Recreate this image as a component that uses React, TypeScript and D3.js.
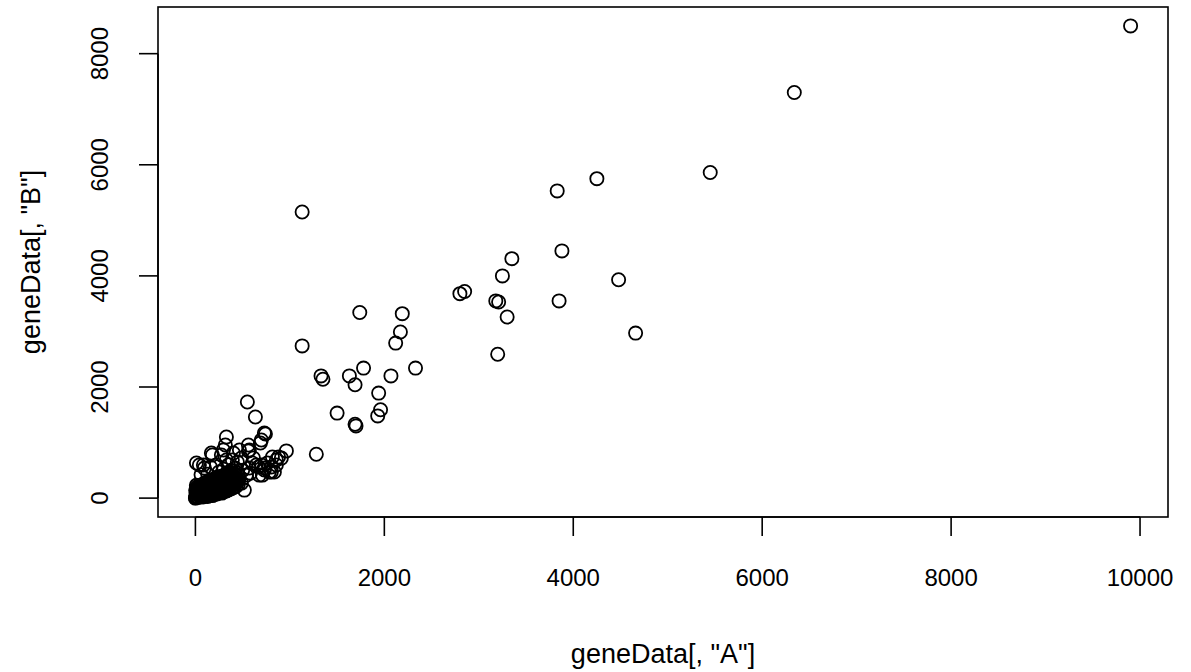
import React from "react";
import * as d3 from "d3";

// geneData[, "A"] vs geneData[, "B"]
const highGenes: [number, number][] = [
  [9900, 8500], [6340, 7300], [5450, 5860], [4250, 5750], [3830, 5530],
  [1130, 5150], [3880, 4450], [3350, 4310], [3250, 4000], [4480, 3930],
  [2800, 3680], [2850, 3720], [3180, 3550], [3210, 3530], [3300, 3260],
  [3850, 3550], [4660, 2970], [3200, 2590],
];

const midGenes: [number, number][] = [
  [1740, 3340], [2190, 3320], [2170, 2990], [2120, 2790], [1130, 2740],
  [1330, 2200], [1350, 2140], [1630, 2200], [1780, 2340], [1690, 2040],
  [2070, 2200], [2330, 2340], [1940, 1890], [1960, 1590], [1930, 1480],
  [1500, 1530], [1690, 1330], [1700, 1300], [1280, 790],
];

const bandGenes: [number, number][] = [
  [550, 1730], [635, 1460], [328, 1100], [741, 1153], [688, 991],
  [561, 847], [963, 850], [910, 720], [857, 685], [180, 775],
  [296, 865], [42, 595], [95, 540], [391, 685], [444, 649],
  [645, 595], [730, 505], [804, 559], [836, 469], [783, 469],
  [709, 414], [518, 144], [317, 955], [561, 955], [402, 811],
  [275, 775], [169, 811], [85, 595], [11, 631], [159, 559],
  [222, 595], [328, 685], [487, 721], [614, 721], [667, 559],
  [582, 450], [487, 270], [730, 1171], [698, 1045], [571, 865],
  [466, 865], [880, 740], [815, 739], [762, 631], [698, 595],
  [603, 631], [857, 595], [804, 469], [730, 541], [571, 541],
  [540, 414], [677, 414], [380, 500], [420, 540], [300, 520],
  [250, 470], [130, 430], [60, 420], [500, 500], [350, 600],
];

const clusterGenes: [number, number][] = [
  [0, 0], [2, 5], [5, 40], [8, 90], [3, 140], [12, 190], [15, 20], [18, 120], [10, 230],
  [30, 10], [28, 60], [35, 110], [32, 160], [25, 210],
  [55, 25], [50, 75], [58, 130], [52, 180], [60, 235],
  [80, 20], [78, 70], [85, 120], [82, 170], [75, 220], [88, 260],
  [105, 35], [100, 85], [110, 140], [108, 190], [102, 240], [112, 285],
  [130, 30], [128, 80], [135, 130], [132, 185], [125, 235], [138, 290],
  [155, 50], [150, 100], [160, 150], [158, 200], [152, 250], [162, 300],
  [180, 45], [178, 95], [185, 145], [182, 195], [175, 245], [188, 300], [183, 330],
  [205, 70], [200, 120], [210, 165], [208, 215], [202, 265], [212, 310], [206, 350],
  [230, 75], [228, 125], [235, 175], [232, 225], [225, 275], [238, 325], [230, 370],
  [255, 100], [250, 150], [260, 200], [258, 250], [252, 300], [262, 345], [256, 390],
  [280, 90], [278, 140], [285, 190], [282, 240], [275, 290], [288, 340], [280, 390],
  [305, 120], [300, 170], [310, 220], [308, 270], [302, 320], [312, 370], [306, 410],
  [330, 130], [328, 180], [335, 230], [332, 280], [325, 330], [338, 385], [331, 425],
  [355, 150], [350, 200], [360, 250], [358, 300], [352, 350], [362, 400], [355, 440],
  [380, 170], [378, 220], [385, 270], [382, 320], [375, 370], [388, 420], [381, 455],
  [405, 190], [400, 240], [410, 290], [408, 340], [402, 390], [412, 440],
  [430, 210], [428, 260], [435, 310], [432, 360], [425, 410], [438, 455],
  [455, 250], [450, 300], [460, 350], [458, 400],
  [20, 65], [22, 165], [45, 50], [42, 150], [40, 200], [65, 100], [68, 200],
  [92, 45], [95, 145], [98, 215], [118, 60], [120, 165], [118, 260], [142, 110],
  [145, 210], [168, 75], [170, 175], [170, 275], [192, 120], [195, 225], [195, 320],
  [218, 95], [220, 195], [218, 290], [242, 150], [245, 250], [245, 345],
  [268, 120], [270, 220], [268, 315], [292, 165], [295, 265], [292, 360],
  [318, 150], [320, 245], [318, 345], [342, 205], [345, 305], [368, 225], [370, 325],
  [392, 250], [395, 350], [418, 270], [420, 370], [442, 330],
];

const xTicks = [0, 2000, 4000, 6000, 8000, 10000];
const yTicks = [0, 2000, 4000, 6000, 8000];
const xTitle = 'geneData[, "A"]';
const yTitle = 'geneData[, "B"]';

const W = 1191;
const H = 672;
const box = { left: 158, right: 1168, top: 7, bottom: 517 };
const FONT = "'Liberation Sans', Arial, Helvetica, sans-serif";
const FS = 24;
const FS_TITLE = 27;

export default function App() {
  const all = [...highGenes, ...midGenes, ...bandGenes, ...clusterGenes];
  const [x0, x1] = d3.extent(all, (d) => d[0]) as [number, number];
  const [y0, y1] = d3.extent(all, (d) => d[1]) as [number, number];
  const dx = (x1 - x0) * 0.04;
  const dy = (y1 - y0) * 0.04;
  const x = d3.scaleLinear().domain([x0 - dx, x1 + dx]).range([box.left, box.right]);
  const y = d3.scaleLinear().domain([y0 - dy, y1 + dy]).range([box.bottom, box.top]);
  const tick = 19;

  return (
    <svg
      width={W}
      height={H}
      style={{ position: "absolute", left: 0, top: 0, background: "#fff" }}
      fontFamily={FONT}
    >
      <rect x={0} y={0} width={W} height={H} fill="#fff" />
      <g fill="none" stroke="#000" strokeWidth={1.8}>
        {all.map((d, i) => (
          <circle key={i} cx={x(d[0])} cy={y(d[1])} r={6.6} />
        ))}
      </g>
      <rect
        x={box.left}
        y={box.top}
        width={box.right - box.left}
        height={box.bottom - box.top}
        fill="none"
        stroke="#000"
        strokeWidth={1.6}
      />
      <g stroke="#000" strokeWidth={1.6}>
        <line x1={x(xTicks[0])} x2={x(xTicks[xTicks.length - 1])} y1={box.bottom} y2={box.bottom} />
        {xTicks.map((t) => (
          <line key={t} x1={x(t)} x2={x(t)} y1={box.bottom} y2={box.bottom + tick} />
        ))}
        <line y1={y(yTicks[0])} y2={y(yTicks[yTicks.length - 1])} x1={box.left} x2={box.left} />
        {yTicks.map((t) => (
          <line key={t} y1={y(t)} y2={y(t)} x1={box.left} x2={box.left - tick} />
        ))}
      </g>
      <g fontSize={FS} fill="#000" textAnchor="middle">
        {xTicks.map((t) => (
          <text key={t} x={x(t)} y={586}>
            {String(t)}
          </text>
        ))}
        {yTicks.map((t) => (
          <text key={t} transform={`translate(108,${y(t)}) rotate(-90)`}>
            {String(t)}
          </text>
        ))}
      </g>
      <g fontSize={FS_TITLE} fill="#000" textAnchor="middle">
        <text x={(box.left + box.right) / 2} y={663}>
          {xTitle}
        </text>
        <text transform={`translate(40,${(box.top + box.bottom) / 2}) rotate(-90)`}>{yTitle}</text>
      </g>
    </svg>
  );
}
